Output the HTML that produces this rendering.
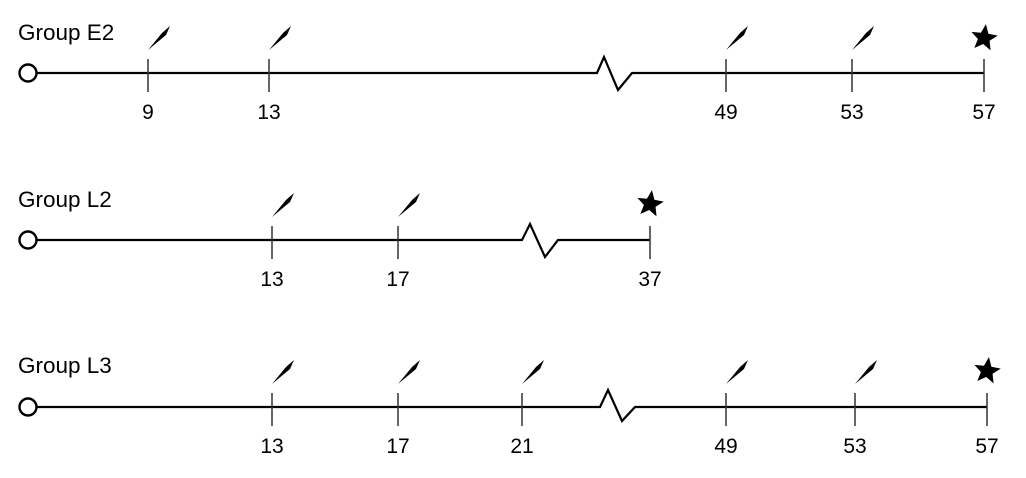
<!DOCTYPE html>
<html><head><meta charset="utf-8"><style>
html,body{margin:0;padding:0;background:#fff;}
svg{display:block;}
text{font-family:"Liberation Sans",Arial,sans-serif;fill:#000;}
</style></head><body>
<svg width="1026" height="478" viewBox="0 0 1026 478" xmlns="http://www.w3.org/2000/svg">
<defs>
<g id="syr"><polygon points="0,-23 14,-40 22,-47 18,-38" fill="#000"/></g>
<g id="tick"><line x1="0" y1="-14" x2="0" y2="19" stroke="#333" stroke-width="1.5"/></g>
<g id="star"><polygon points="0,-14 3.8,-4.8 13.3,-4.3 5.9,1.9 8.2,11.3 0,6 -8.2,11.3 -5.9,1.9 -13.3,-4.3 -3.8,-4.8" fill="#000" transform="rotate(8)"/></g>
</defs>

<!-- E2 -->
<text x="18" y="40" font-size="22.5">Group E2</text>
<polyline points="37,73 597,73 604,57 618,90 632,73 984,73" fill="none" stroke="#000" stroke-width="2.2"/>
<circle cx="28" cy="73" r="8.5" fill="#fff" stroke="#000" stroke-width="2.4"/>
<g font-size="21" text-anchor="middle">
<use href="#tick" x="148" y="73"/><use href="#syr" x="148" y="73"/><text x="148" y="119">9</text>
<use href="#tick" x="269" y="73"/><use href="#syr" x="269" y="73"/><text x="269" y="119">13</text>
<use href="#tick" x="726" y="73"/><use href="#syr" x="726" y="73"/><text x="726" y="119">49</text>
<use href="#tick" x="852" y="73"/><use href="#syr" x="852" y="73"/><text x="852" y="119">53</text>
<use href="#tick" x="984" y="73"/><use href="#star" x="984" y="38"/><text x="984" y="119">57</text>
</g>

<!-- L2 -->
<text x="18" y="207" font-size="22.5">Group L2</text>
<polyline points="37,240 522,240 530,224 545,257 558,240 650,240" fill="none" stroke="#000" stroke-width="2.2"/>
<circle cx="28" cy="240" r="8.5" fill="#fff" stroke="#000" stroke-width="2.4"/>
<g font-size="21" text-anchor="middle">
<use href="#tick" x="272" y="240"/><use href="#syr" x="272" y="240"/><text x="272" y="286">13</text>
<use href="#tick" x="398" y="240"/><use href="#syr" x="398" y="240"/><text x="398" y="286">17</text>
<use href="#tick" x="650" y="240"/><use href="#star" x="650" y="204"/><text x="650" y="286">37</text>
</g>

<!-- L3 -->
<text x="18" y="373" font-size="22.5">Group L3</text>
<polyline points="37,407 600,407 608,390 622,421 635,407 987,407" fill="none" stroke="#000" stroke-width="2.2"/>
<circle cx="28" cy="407" r="8.5" fill="#fff" stroke="#000" stroke-width="2.4"/>
<g font-size="21" text-anchor="middle">
<use href="#tick" x="272" y="407"/><use href="#syr" x="272" y="407"/><text x="272" y="453">13</text>
<use href="#tick" x="398" y="407"/><use href="#syr" x="398" y="407"/><text x="398" y="453">17</text>
<use href="#tick" x="522" y="407"/><use href="#syr" x="522" y="407"/><text x="522" y="453">21</text>
<use href="#tick" x="726" y="407"/><use href="#syr" x="726" y="407"/><text x="726" y="453">49</text>
<use href="#tick" x="855" y="407"/><use href="#syr" x="855" y="407"/><text x="855" y="453">53</text>
<use href="#tick" x="987" y="407"/><use href="#star" x="987" y="371"/><text x="987" y="453">57</text>
</g>
</svg>
</body></html>
